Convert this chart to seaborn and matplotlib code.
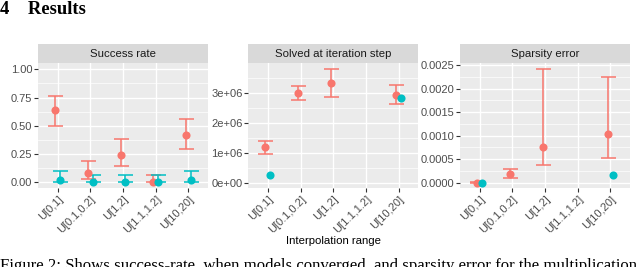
import numpy as np
import pandas as pd
import matplotlib
matplotlib.use('Agg')
import matplotlib.pyplot as plt
import seaborn as sns
from matplotlib.ticker import AutoMinorLocator, FuncFormatter, MultipleLocator

nan = np.nan

ranges = ["U[0,1]", "U[0.1,0.2]", "U[1,2]", "U[1.1,1.2]", "U[10,20]"]
models = ["model_a", "model_b"]
colors = ["#F8766D", "#00BFC4"]

# success rate
success_mid_a = [0.64, 0.08, 0.245, 0.0, 0.42]
success_lo_a = [0.50, 0.033, 0.145, 0.0, 0.294]
success_hi_a = [0.763, 0.187, 0.38, 0.068, 0.558]
success_mid_b = [0.024, 0.0, 0.0, 0.0, 0.024]
success_lo_b = [0.0, 0.0, 0.0, 0.0, 0.0]
success_hi_b = [0.104, 0.068, 0.068, 0.068, 0.104]

# solved at iteration step
solved_mid_a = [1.18e6, 2.99e6, 3.33e6, nan, 2.93e6]
solved_lo_a = [0.97e6, 2.77e6, 2.86e6, nan, 2.63e6]
solved_hi_a = [1.40e6, 3.21e6, 3.79e6, nan, 3.27e6]
solved_mid_b = [0.26e6, nan, nan, nan, 2.81e6]
solved_lo_b = [nan, nan, nan, nan, nan]
solved_hi_b = [nan, nan, nan, nan, nan]

# sparsity error
sparse_mid_a = [0.0, 0.000193, 0.000764, nan, 0.001036]
sparse_lo_a = [0.0, 0.000107, 0.000379, nan, 0.000514]
sparse_hi_a = [0.00001, 0.000286, 0.002414, nan, 0.00225]
sparse_mid_b = [0.0, nan, nan, nan, 0.000171]
sparse_lo_b = [nan, nan, nan, nan, nan]
sparse_hi_b = [nan, nan, nan, nan, nan]

panels = [
    ("Success rate", (success_mid_a, success_lo_a, success_hi_a), (success_mid_b, success_lo_b, success_hi_b)),
    ("Solved at iteration step", (solved_mid_a, solved_lo_a, solved_hi_a), (solved_mid_b, solved_lo_b, solved_hi_b)),
    ("Sparsity error", (sparse_mid_a, sparse_lo_a, sparse_hi_a), (sparse_mid_b, sparse_lo_b, sparse_hi_b)),
]
ylims = [(-0.053, 1.053), (-0.19e6, 3.98e6), (-0.000121, 0.002536)]
ysteps = [0.25, 1e6, 0.0005]
yfmts = [lambda v, p: "%.2f" % v, lambda v, p: "%.0e" % v, lambda v, p: "%.4f" % v]

plt.rcParams['font.family'] = ['Liberation Sans', 'DejaVu Sans']
W, H = 640, 267
fig = plt.figure(figsize=(6.4, 2.67), dpi=100)

lefts = [38, 248.3, 460]
pw = 170
top, bottom, strip_top = 63.3, 188.3, 44

grey_txt = "#4D4D4D"
dodge = 0.15

for k, (title, a, b) in enumerate(panels):
    ax = fig.add_axes([lefts[k] / W, 1 - bottom / H, pw / W, (bottom - top) / H])
    ax.set_facecolor("#EBEBEB")
    for s in ax.spines.values():
        s.set_visible(False)

    df = pd.DataFrame({
        "range": ranges * 2,
        "model": [models[0]] * 5 + [models[1]] * 5,
        "value": list(a[0]) + list(b[0]),
        "lo": list(a[1]) + list(b[1]),
        "hi": list(a[2]) + list(b[2]),
    })

    # error bars first, points on top
    for j, m in enumerate(models):
        sub = df[df["model"] == m]
        off = -dodge / 2 + j * dodge
        pos = np.arange(len(ranges)) + off
        mid = sub["value"].to_numpy()
        err = np.vstack([mid - sub["lo"].to_numpy(), sub["hi"].to_numpy() - mid])
        ax.errorbar(pos, mid, yerr=err, fmt='none', ecolor=colors[j], elinewidth=1.1,
                    capsize=5.4, capthick=1.1, zorder=3)

    sns.pointplot(data=df.dropna(subset=["value"]), x="range", y="value", hue="model",
                  order=ranges, hue_order=models, palette=colors, dodge=dodge,
                  linestyle="none", errorbar=None, markersize=3.8, legend=False, ax=ax)
    for ln in ax.lines:
        ln.set_zorder(4)

    ax.set_xlim(-0.6, 4.6)
    ax.set_ylim(*ylims[k])
    ax.yaxis.set_major_locator(MultipleLocator(ysteps[k]))
    ax.yaxis.set_minor_locator(AutoMinorLocator(2))
    ax.yaxis.set_major_formatter(FuncFormatter(yfmts[k]))
    ax.grid(True, which='major', color='white', linewidth=1.0)
    ax.grid(True, which='minor', axis='y', color='white', linewidth=0.5)
    ax.set_axisbelow(True)
    ax.set_xlabel("")
    ax.set_ylabel("")
    ax.tick_params(axis='both', which='major', length=2.7, width=0.8, color="#333333",
                   labelcolor=grey_txt, labelsize=8, pad=1.5)
    ax.tick_params(axis='y', which='minor', length=0)
    ax.set_xticks(range(len(ranges)))
    ax.set_xticklabels(ranges, rotation=45, ha='right', rotation_mode='anchor')

    # facet strip
    sax = fig.add_axes([lefts[k] / W, 1 - top / H, pw / W, (top - strip_top) / H])
    sax.set_facecolor("#D9D9D9")
    sax.set_xticks([])
    sax.set_yticks([])
    for s in sax.spines.values():
        s.set_visible(False)
    sax.text(0.5, 0.48, title, ha='center', va='center', fontsize=8.2, color="#1A1A1A",
             transform=sax.transAxes)

fig.text(334 / W, 1 - 244 / H, "Interpolation range", ha='center', va='baseline',
         fontsize=8.2, color="black")

fig.text(0, 1 - 14 / H, "4    Results", ha='left', va='baseline', fontsize=13.4,
         fontweight='bold', family=['Liberation Serif', 'DejaVu Serif'])
fig.text(0, 1 - 269.5 / H,
         "Figure 2: Shows success-rate, when models converged, and sparsity error for the multiplication",
         ha='left', va='baseline', fontsize=12.1, family=['Liberation Serif', 'DejaVu Serif'])

fig.savefig("out.png", dpi=100)
